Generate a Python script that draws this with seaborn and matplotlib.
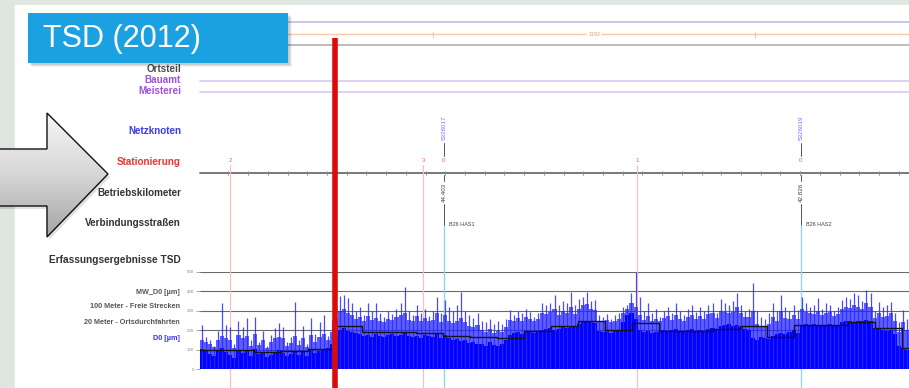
import numpy as np
import pandas as pd
import matplotlib
matplotlib.use("Agg")
import matplotlib.pyplot as plt
import matplotlib.patches as mpatches
from matplotlib.colors import LinearSegmentedColormap
from matplotlib.transforms import blended_transform_factory
import seaborn as sns

# ---------------------------------------------------------------- data
ROAD_LENGTH_M = 2625          # stretch of road shown along the x axis
SAMPLE_STEP_M = 15            # spacing of the D0 samples

# D0 deflection [µm] per 15 m sample:
#   d0_base  - level up to which the record is solid
#   d0_upper - top of the dense band of single readings
#   d0_peak  - highest single reading
d0_peak = [
    228, 165, 150, 120, 195, 340, 225, 215, 130, 245,
    215, 262, 150, 270, 140, 195, 120, 175, 210, 235,
    218, 140, 165, 345, 150, 220, 130, 262, 180, 244,
    278, 170, 253,
    330, 375, 380, 365, 340, 300, 320, 280, 340, 300,
    340, 290, 270, 300, 285, 310, 340, 423, 300, 280,
    330, 290, 310, 275, 300, 372, 290, 355, 320, 300,
    330, 397, 300, 280, 265, 290, 250, 240, 260, 230,
    250, 230, 260, 304, 280, 300, 290, 310, 295, 270,
    290, 340, 330, 340, 380, 330, 350, 340, 398, 330,
    360, 370, 397, 350, 355, 280, 270, 285, 260, 280,
    290, 320, 330, 389, 500, 372, 300, 338, 290, 310,
    270, 300, 320, 290, 338, 300, 280, 310, 330, 295,
    320, 300, 330, 338, 290, 360, 340, 330, 350, 389,
    330, 300, 310, 440, 300, 270, 260, 290, 338, 300,
    381, 320, 300, 330, 304, 372, 340, 320, 330, 364,
    310, 340, 330, 300, 320, 355, 370, 360, 389, 380,
    350, 406, 390, 300, 346, 320, 330, 346, 290, 240,
    304, 260,
]
d0_upper = [
    150, 140, 130, 115, 150, 170, 160, 150, 110, 175,
    160, 170, 120, 180, 125, 150, 110, 140, 160, 165,
    160, 120, 135, 170, 125, 160, 115, 175, 140, 165,
    180, 150, 190,
    260, 300, 310, 290, 280, 260, 270, 250, 275, 255,
    265, 250, 240, 260, 255, 270, 280, 290, 255, 245,
    275, 245, 265, 250, 255, 290, 240, 280, 250, 235,
    250, 265, 240, 220, 215, 225, 200, 190, 205, 185,
    195, 190, 215, 255, 250, 265, 250, 270, 260, 245,
    260, 290, 285, 295, 310, 280, 300, 290, 320, 285,
    310, 330, 335, 310, 305, 250, 245, 255, 240, 250,
    260, 290, 310, 340, 320, 280, 255, 275, 250, 260,
    245, 265, 275, 255, 280, 260, 250, 270, 280, 260,
    275, 260, 285, 290, 265, 300, 295, 290, 295, 320,
    290, 270, 270, 300, 230, 215, 220, 230, 270, 250,
    300, 265, 260, 280, 260, 310, 295, 290, 285, 300,
    280, 290, 295, 275, 285, 310, 320, 315, 330, 320,
    310, 340, 320, 265, 290, 270, 275, 290, 250, 190,
    240, 200,
]
d0_base = [
    105, 95, 80, 70, 95, 110, 90, 75, 60, 100,
    85, 95, 70, 105, 80, 85, 65, 75, 90, 100,
    85, 70, 80, 95, 75, 90, 70, 100, 85, 95,
    105, 110, 130,
    170, 200, 210, 195, 190, 185, 180, 170, 175, 165,
    180, 170, 165, 175, 180, 170, 175, 185, 170, 165,
    170, 160, 175, 170, 165, 180, 160, 175, 160, 150,
    155, 145, 150, 135, 140, 130, 130, 120, 140, 125,
    120, 130, 150, 175, 185, 190, 180, 195, 190, 185,
    190, 200, 205, 210, 200, 205, 215, 210, 220, 215,
    230, 245, 250, 240, 235, 195, 190, 200, 185, 195,
    200, 240, 280, 290, 260, 200, 190, 195, 185, 190,
    190, 200, 195, 200, 205, 195, 190, 200, 205, 195,
    200, 195, 205, 210, 200, 220, 225, 230, 220, 225,
    215, 205, 200, 160, 150, 165, 160, 155, 170, 180,
    185, 180, 190, 200, 185, 225, 230, 225, 230, 220,
    225, 220, 230, 225, 220, 240, 245, 250, 240, 245,
    250, 255, 245, 210, 205, 200, 195, 200, 180, 120,
    110, 100,
]

# MW_D0: mean deflection per 100 m block [µm]
mw_d0 = [97, 100, 90, 92, 102, 222, 193, 190, 184, 172,
         165, 158, 196, 220, 250, 200, 235, 196, 196, 205,
         223, 168, 227, 227, 241, 210, 110]
MW_BLOCK_M = 100

# stationing along the road
station_pos_m = [111, 826, 903, 1618, 2225]
station_labels = ["2", "3", "0", "1", "0"]

# network nodes
node_pos_m = [903, 2225]
node_ids = ["5326017", "5326019"]
node_km = ["44.403", "42.826"]
link_roads = ["B26 HAS1", "B26 HAS2"]

# section length shown on the top track
segment_start_m = 863
segment_len_m = 1192

# start of the surveyed stretch (thick marker)
survey_mark_m = 500

y_ticks = [0, 100, 200, 300, 400, 500]

# ---------------------------------------------------------------- style
sns.set_theme(style="white")
plt.rcParams["font.family"] = ["Liberation Sans", "DejaVu Sans"]

W, H = 909, 388
fig = plt.figure(figsize=(W / 100, H / 100), dpi=100)

# page layer in pixel units (y downwards)
ax_bg = fig.add_axes([0, 0, 1, 1])
ax_bg.set_xlim(0, W)
ax_bg.set_ylim(H, 0)
ax_bg.axis("off")

ax_bg.add_patch(mpatches.Rectangle((0, 0), W, H, color="#dfe6df", zorder=0))
ax_bg.add_patch(mpatches.Rectangle((15, 5), W - 15, H - 5, color="white", zorder=0.1))

# title box
for d, a in [(4, 0.05), (3, 0.07), (2, 0.09)]:
    ax_bg.add_patch(mpatches.Rectangle((28 + d, 13 + d), 260, 50, color="black",
                                       alpha=a, lw=0, zorder=4))
ax_bg.add_patch(mpatches.Rectangle((28, 13), 260, 50, color="#1ba1e2", lw=0, zorder=5))
ax_bg.text(43, 39, "TSD (2012)", color="white", fontsize=22, va="center", ha="left", zorder=6)

# grey pointer arrow
arrow_xy = [(-5, 149), (47, 149), (47, 113), (108, 174), (47, 237), (47, 206), (-5, 206)]
shadow = mpatches.Polygon([(x + 2, y + 3) for x, y in arrow_xy], closed=True,
                          color="black", alpha=0.12, lw=0, zorder=2)
ax_bg.add_patch(shadow)
arrow = mpatches.Polygon(arrow_xy, closed=True, facecolor="none",
                         edgecolor="#111111", lw=1.0, zorder=4)
ax_bg.add_patch(arrow)
grad = np.linspace(0, 1, 256).reshape(-1, 1)
cmap = LinearSegmentedColormap.from_list("arrowfill", ["#f8f8f8", "#d6d6d6", "#a2a2a2"])
im = ax_bg.imshow(grad, extent=(-5, 110, 240, 110), cmap=cmap, aspect="auto",
                  origin="upper", zorder=3)
im.set_clip_path(arrow)
ax_bg.set_xlim(0, W)
ax_bg.set_ylim(H, 0)

# track labels
bold = dict(fontsize=7.1, fontweight="bold", ha="right", va="center")
ax_bg.text(181, 69, "Ortsteil", color="#4a4a4a", **bold)
ax_bg.text(181, 80, "Bauamt", color="#a050dd", **bold)
ax_bg.text(181, 91, "Meisterei", color="#a050dd", **bold)
ax_bg.text(181, 131, "Netzknoten", color="#3b3bef", **bold)
ax_bg.text(181, 162, "Stationierung", color="#f03232", **bold)
ax_bg.text(181, 193, "Betriebskilometer", color="#333333", **bold)
ax_bg.text(181, 223, "Verbindungsstraßen", color="#333333", **bold)
ax_bg.text(181, 260, "Erfassungsergebnisse TSD", color="#333333",
           fontsize=7.3, fontweight="bold", ha="right", va="center")
small = dict(fontsize=5.2, fontweight="bold", ha="right", va="center")
ax_bg.text(180, 292, "MW_D0 [µm]", color="#555555", **small)
ax_bg.text(180, 307, "100 Meter - Freie Strecken", color="#555555", **small)
ax_bg.text(180, 322, "20 Meter - Ortsdurchfahrten", color="#555555", **small)
ax_bg.text(180, 338, "D0 [µm]", color="#3030ff", **small)

# horizontal track lines
ax_bg.plot([288, W], [22, 22], color="#c9c3f2", lw=1.4, zorder=1)
ax_bg.plot([288, W], [34, 34], color="#f6c9aa", lw=1.0, zorder=1)
ax_bg.plot([288, W], [45, 45], color="#b0b0b0", lw=1.2, zorder=1)
ax_bg.plot([200, W], [81, 81], color="#d9c8f3", lw=1.2, zorder=1)
ax_bg.plot([200, W], [92, 92], color="#d9c8f3", lw=1.2, zorder=1)
ax_bg.plot([200, W], [173, 173], color="#777777", lw=1.4, zorder=1)

# ---------------------------------------------------------------- signal panel
y0_px, y500_px = 369.3, 271.7
ax_sig = fig.add_axes([200 / W, (H - y0_px) / H, (W - 200) / W, (y0_px - y500_px) / H])
ax_sig.patch.set_alpha(0)
for s in ax_sig.spines.values():
    s.set_visible(False)

pos = SAMPLE_STEP_M / 2 + SAMPLE_STEP_M * np.arange(len(d0_peak))
signal = pd.DataFrame({"m": pos, "peak": d0_peak, "upper": d0_upper, "base": d0_base})
mw_x = MW_BLOCK_M * np.arange(len(mw_d0) + 1)
mean_df = pd.DataFrame({"m": mw_x, "MW_D0": mw_d0 + [mw_d0[-1]]})

# mixed transform: x in metres, y in page pixels
trk = blended_transform_factory(ax_sig.transData, ax_bg.transData)

# grid lines
for v in y_ticks[1:]:
    ax_sig.axhline(v, color="#6a6a6a", lw=0.8, zorder=0.3)

# stationing markers
for p, lab in zip(station_pos_m, station_labels):
    ax_sig.text(p, 161, lab, transform=trk, color="#ff6060", fontsize=4.5,
                ha="center", va="center", clip_on=False)
    if p not in node_pos_m:
        ax_sig.plot([p, p], [165, H], transform=trk, color="#ffbcbc", lw=0.8,
                    clip_on=False, zorder=0.4)
for p in np.arange(105, ROAD_LENGTH_M, 73):
    ax_sig.plot([p, p], [171, 175], transform=trk, color="#909090", lw=0.6,
                clip_on=False, zorder=0.4)

# network nodes
for p, nid, km, road in zip(node_pos_m, node_ids, node_km, link_roads):
    ax_sig.text(p, 128, nid, transform=trk, rotation=90, color="#7070ff", fontsize=4.5,
                ha="center", va="center", clip_on=False)
    for ya, yb in [(143, 156), (175, 181), (204, 225)]:
        ax_sig.plot([p, p], [ya, yb], transform=trk, color="#555555", lw=0.7,
                    clip_on=False, zorder=0.4)
    ax_sig.text(p, 192, km, transform=trk, rotation=90, color="#444444", fontsize=4.5,
                ha="center", va="center", clip_on=False)
    ax_sig.annotate(road, xy=(p, 225), xycoords=trk, xytext=(3.5, 0),
                    textcoords="offset points", fontsize=4, color="#444444",
                    va="center", ha="left", annotation_clip=False)
    ax_sig.plot([p, p], [226, H], transform=trk, color="#92d6f0", lw=1.0,
                clip_on=False, zorder=0.4)

# section length on the top track
seg_end = segment_start_m + segment_len_m
for p in (segment_start_m, seg_end):
    ax_sig.plot([p, p], [31.5, 36.5], transform=trk, color="#f4b890", lw=0.6, clip_on=False)
ax_sig.text((segment_start_m + seg_end) / 2, 34, str(segment_len_m), transform=trk,
            fontsize=4, color="#f0a070", ha="center", va="center", clip_on=False,
            bbox=dict(facecolor="white", edgecolor="none", pad=1))

# D0 values: solid part, dense band of single readings, highest readings
ax_sig.bar(signal["m"], signal["upper"], width=SAMPLE_STEP_M, color="#2020ff",
           alpha=0.72, linewidth=0, zorder=1.9)
ax_sig.bar(signal["m"], signal["base"], width=SAMPLE_STEP_M, color="#0000ff",
           linewidth=0, zorder=2)
ax_sig.vlines(signal["m"], 0, signal["peak"], color="#2a2aff", lw=0.9, alpha=0.85, zorder=2.1)

# MW_D0 mean per 100 m
sns.lineplot(data=mean_df, x="m", y="MW_D0", drawstyle="steps-post", color="#151515",
             lw=1.0, ax=ax_sig, zorder=3)

# start of surveyed stretch
ax_sig.plot([survey_mark_m, survey_mark_m], [38, H], transform=trk, color="#dd0a0a",
            lw=4.0, solid_capstyle="butt", clip_on=False, zorder=10)

ax_sig.set_xlim(0, ROAD_LENGTH_M)
ax_sig.set_ylim(0, 500)
ax_sig.set_xlabel("")
ax_sig.set_ylabel("")
ax_sig.set_xticks([])
ax_sig.set_yticks(y_ticks)
ax_sig.set_yticklabels([str(v) for v in y_ticks])
ax_sig.tick_params(axis="y", left=True, length=3, width=0.6, color="#999999",
                   labelsize=3.2, labelcolor="#888888", pad=1.5)

fig.savefig("out.png", dpi=100)
